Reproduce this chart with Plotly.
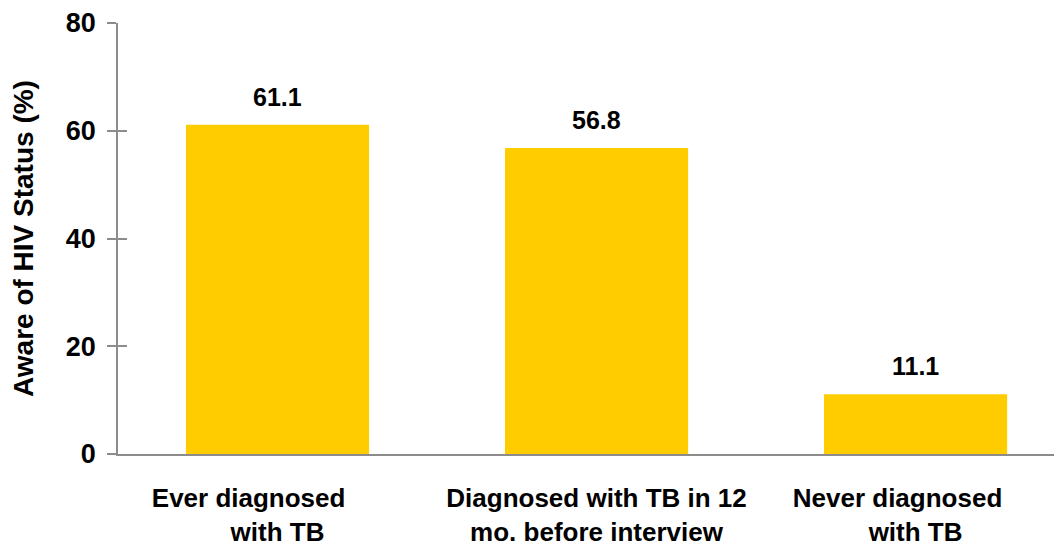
import plotly.graph_objects as go

categories = ["Ever diagnosed<br>with TB",
              "Diagnosed with TB in 12<br>mo. before interview",
              "Never diagnosed<br>with TB"]
aware_pct = [61.1, 56.8, 11.1]
value_labels = ["61.1", "56.8", "11.1"]
y_ticks = [0, 20, 40, 60, 80]

# first lines of two of the labels sit a bit left of the bar centre in the original
nb = "\u00a0"
tick_text = ["Ever diagnosed" + nb * 8 + "<br>with TB",
             "Diagnosed with TB in 12<br>mo. before interview",
             "Never diagnosed" + nb * 5 + "<br>with TB"]

font_family = "Liberation Sans, Arial, sans-serif"
bar_color = "#FFCC00"
axis_color = "#8C8C8C"

fig = go.Figure(go.Bar(
    x=list(range(len(categories))),
    y=aware_pct,
    marker=dict(color=bar_color, line=dict(width=0)),
    width=0.574,
    hoverinfo="skip",
    showlegend=False))

for i, v in enumerate(aware_pct):
    fig.add_annotation(x=i, y=v, text="<b>" + value_labels[i] + "</b>",
                       showarrow=False, yanchor="bottom", yshift=12,
                       font=dict(size=25, color="black", family=font_family))

# the page body has an 8px margin, so the figure is a bit smaller than the window
fig.update_layout(
    width=1054, height=539,
    margin=dict(l=110, r=0, t=13, b=92),
    paper_bgcolor="white", plot_bgcolor="white",
    font=dict(family=font_family, color="black"),
    xaxis=dict(range=[-0.5, 2.459], tickmode="array",
               tickvals=list(range(len(categories))),
               ticktext=["<b>" + t.replace("<br>", "</b><br><b>") + "</b>" for t in tick_text],
               tickfont=dict(size=26, family=font_family, color="black"),
               showline=True, linecolor=axis_color, linewidth=1.5,
               ticks="", showgrid=False, zeroline=False, ticklabelstandoff=20),
    yaxis=dict(range=[0, 80], tickvals=y_ticks,
               ticktext=["<b>%d</b>" % t for t in y_ticks],
               tickfont=dict(size=27, family=font_family, color="black"),
               ticks="outside", ticklen=9, tickcolor=axis_color, tickwidth=1.5,
               ticklabelstandoff=6, ticklabeloverflow="allow",
               showline=True, linecolor=axis_color, linewidth=1.5,
               showgrid=False, zeroline=False,
               title=dict(text="<b>Aware of HIV Status (%)</b>",
                          font=dict(size=28, family=font_family, color="black"),
                          standoff=32)),
    yaxis2=dict(range=[0, 80], tickvals=y_ticks, overlaying="y", side="left",
                ticks="inside", ticklen=9, tickcolor=axis_color, tickwidth=1.5,
                showticklabels=False, showgrid=False, zeroline=False, showline=False),
)

# invisible trace so the inner tick set is drawn
fig.add_trace(go.Scatter(x=[0], y=[0], yaxis="y2", mode="markers",
                         marker=dict(opacity=0), hoverinfo="skip", showlegend=False))

fig.write_html("out.html")
